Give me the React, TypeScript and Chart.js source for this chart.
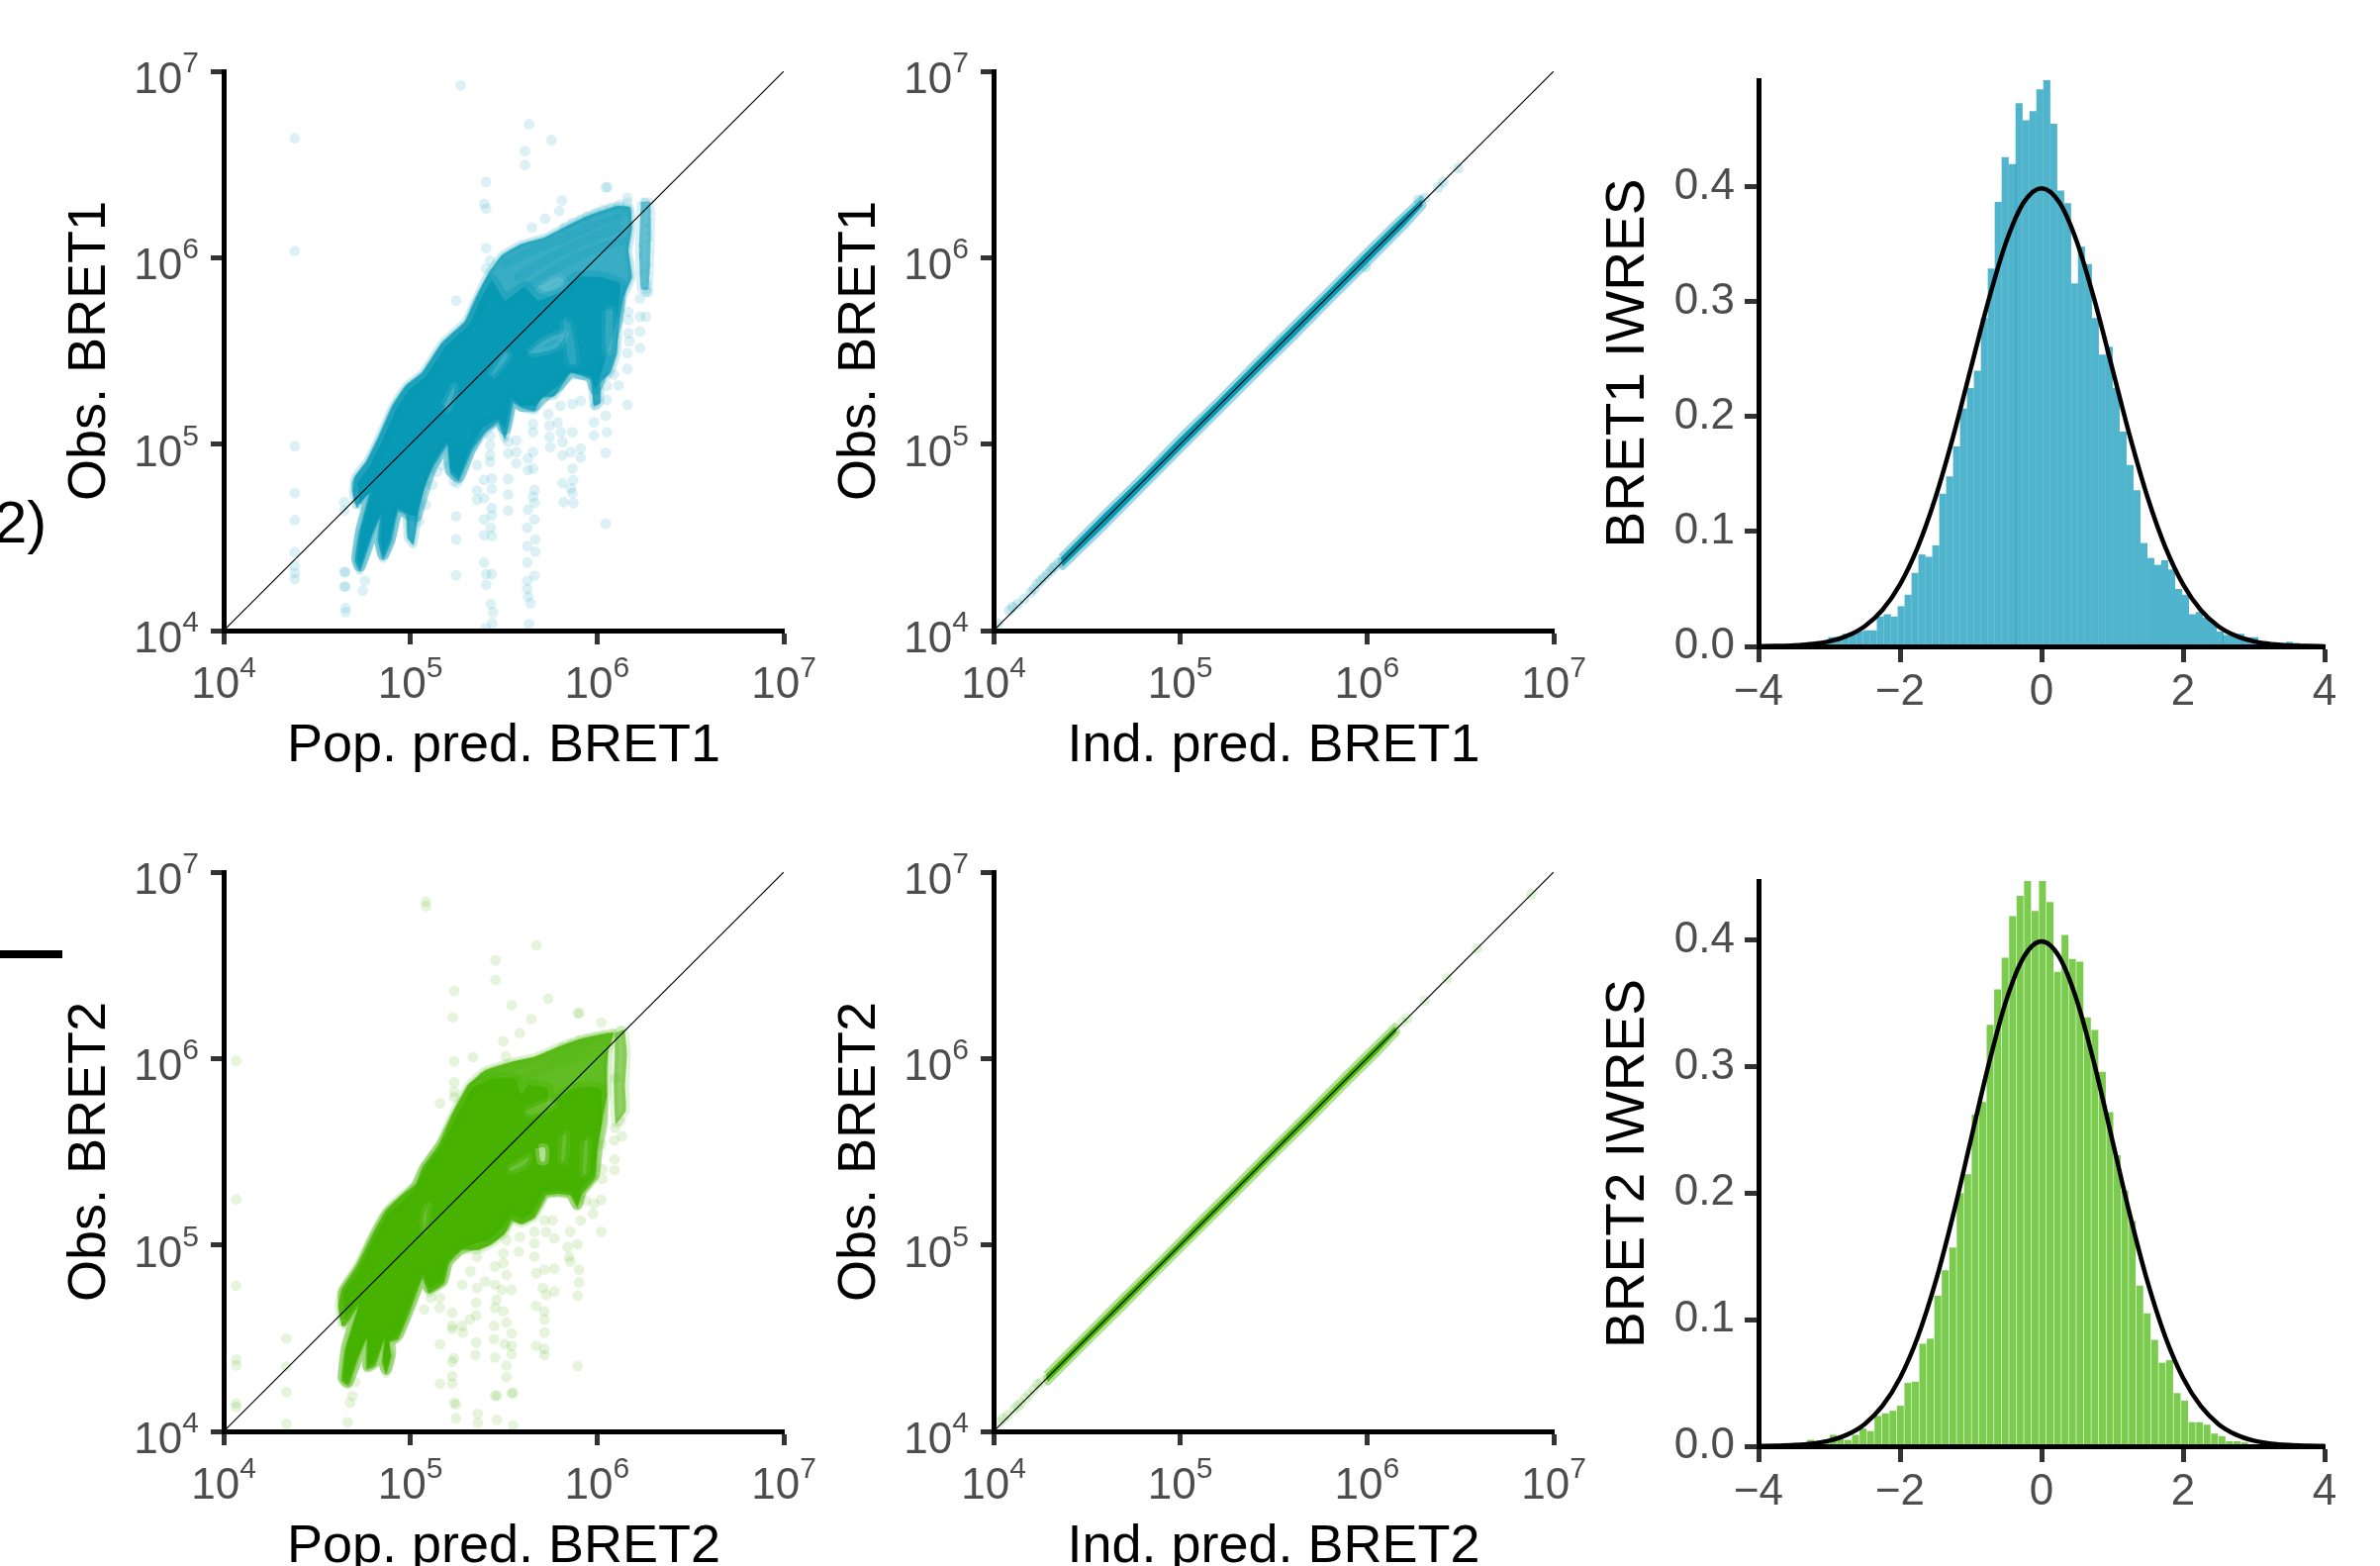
import React, { useEffect, useRef } from "react";
import { Chart, registerables } from "chart.js";

Chart.register(...registerables);

// All scatter values are log10(value) pairs.
type P = [number, number];

const logTicks = [1e4, 1e5, 1e6, 1e7];
const logTickBase = "10";
const logTickExponents = ["4", "5", "6", "7"];
const histXTicks = [-4, -2, 0, 2, 4];
const histXLabels = ["\u22124", "\u22122", "0", "2", "4"];
const histYTicks = [0, 0.1, 0.2, 0.3, 0.4];
const diagonalValues = [1e4, 1e7];

const bret1PopCloud: P[] = [[4.713,4.657],[4.692,4.746],[4.704,4.825],[4.766,4.905],[4.836,5.046],[4.907,5.206],[4.977,5.312],[5.066,5.383],[5.171,5.542],[5.295,5.657],[5.348,5.772],[5.418,5.914],[5.489,6.011],[5.595,6.073],[5.718,6.108],[5.824,6.162],[5.948,6.223],[6.106,6.277],[6.177,6.268],[6.186,6.162],[6.168,6.037],[6.186,5.896],[6.142,5.790],[6.115,5.631],[6.106,5.489],[6.071,5.383],[6.018,5.330],[6.018,5.223],[5.983,5.206],[5.965,5.347],[5.859,5.383],[5.815,5.321],[5.771,5.259],[5.701,5.250],[5.665,5.179],[5.595,5.197],[5.551,5.223],[5.533,5.135],[5.507,5.029],[5.471,5.117],[5.401,5.064],[5.330,4.967],[5.260,4.807],[5.216,4.843],[5.198,4.993],[5.118,4.869],[5.066,4.746],[5.039,4.604],[5.016,4.462],[4.986,4.498],[4.977,4.622],[4.933,4.639],[4.898,4.480],[4.854,4.383],[4.827,4.480],[4.836,4.604],[4.792,4.498],[4.730,4.321],[4.704,4.374],[4.722,4.507],[4.783,4.754]];
const bret1PopCore: P[] = [[4.730,4.684],[4.716,4.790],[4.783,4.887],[4.854,5.029],[4.924,5.188],[4.995,5.294],[5.083,5.365],[5.189,5.524],[5.313,5.639],[5.365,5.754],[5.436,5.878],[5.507,5.772],[5.612,5.843],[5.683,5.772],[5.789,5.807],[5.895,5.896],[6.018,5.896],[6.124,5.861],[6.106,5.666],[6.018,5.365],[5.992,5.294],[5.965,5.365],[5.859,5.383],[5.789,5.312],[5.718,5.259],[5.665,5.206],[5.595,5.206],[5.542,5.241],[5.507,5.082],[5.471,5.135],[5.383,5.082],[5.313,4.958],[5.260,4.825],[5.215,4.861],[5.198,5.011],[5.118,4.887],[5.075,4.763],[5.030,4.613],[4.995,4.622],[4.933,4.657],[4.889,4.489],[4.854,4.409],[4.840,4.480],[4.845,4.622],[4.792,4.515],[4.730,4.347],[4.716,4.391],[4.739,4.551],[4.792,4.746]];
const bret1PopColumn: P[] = [[6.235,6.300],[6.285,6.300],[6.287,6.050],[6.275,5.830],[6.235,5.830],[6.225,6.050]];
const bret1PopTrackA: P[] = [[5.508,5.966],[5.650,6.037],[5.791,6.090],[5.950,6.161],[6.109,6.214]];
const bret1PopTrackB: P[] = [[5.579,5.896],[5.720,5.984],[5.897,6.073],[6.109,6.161]];
const bret1PopTrackC: P[] = [[5.614,5.825],[5.791,5.949],[5.968,6.037],[6.144,6.091]];
const bret1PopPatchA: P[] = [[5.632,5.489],[5.720,5.559],[5.826,5.595],[5.791,5.524],[5.685,5.489]];
const bret1PopPatchB: P[] = [[5.429,5.365],[5.508,5.489],[5.526,5.471],[5.455,5.382]];
const bret1PopPatchC: P[] = [[5.181,5.206],[5.234,5.312],[5.234,5.277],[5.199,5.188]];
const bret1PopPatchD: P[] = [[6.047,5.719],[6.082,5.719],[6.074,5.507],[6.047,5.489]];
const bret1PopPatchE: P[] = [[5.817,5.666],[5.853,5.648],[5.888,5.435],[5.853,5.435]];
const bret1PopPatchF: P[] = [[5.685,5.843],[5.791,5.896],[5.826,5.861],[5.738,5.816]];
const bret1PopDots: P[] = [[5.269,6.925],[5.636,6.716],[5.614,6.572],[5.614,6.497],[5.756,6.631],[4.381,6.641],[4.381,6.036],[4.381,4.988],[4.381,4.737],[4.381,4.592],[4.381,4.421],[4.381,4.348],[4.381,4.308],[4.381,4.276],[4.653,4.121],[4.653,4.099],[4.653,4.313],[4.653,4.236],[5.403,4.013],[5.439,4.040],[5.431,4.142],[5.444,4.099],[5.636,4.035],[5.644,4.147],[5.631,4.182],[6.056,6.379],
[5.406,6.406],[5.395,6.289],[5.406,6.264],[5.812,6.308],[5.798,6.250],[5.722,6.209],[5.651,6.162],[6.046,6.377],[6.163,6.321],[5.406,6.052],[5.427,5.984],[5.406,5.940],[5.245,5.770],
[6.256,6.294],[6.262,6.250],[6.265,6.197],[6.265,6.153],[6.269,6.108],[6.256,6.064],[6.251,6.011],[6.262,5.958],[6.256,5.914],[6.265,5.861],[6.262,5.816],[6.230,5.781],[6.274,5.816],[6.230,5.684],[6.262,5.684],[6.230,5.604],[6.230,5.515],
[6.168,5.710],[6.168,5.666],[6.168,5.595],[6.173,5.551],[6.163,5.489],[6.163,5.404],[6.115,5.315],[6.163,5.211],[6.089,5.374],[6.053,5.312],[6.053,5.238],[6.046,5.153],[6.053,5.064],[6.046,4.954],[6.046,4.572],[5.983,5.117],[5.983,5.046],[5.992,5.206],
[5.912,4.976],[5.912,4.928],[5.868,5.215],[5.912,5.232],[5.868,5.064],[5.859,4.958],[5.815,4.940],[5.868,4.869],[5.873,4.807],[5.859,4.763],[5.815,4.790],[5.868,4.737],[5.821,4.689],[5.873,4.684],[5.803,5.206],[5.789,5.117],[5.806,5.064],[5.815,5.011],[5.739,5.161],[5.745,5.100],[5.745,5.038],[5.750,4.984],
[5.657,5.108],[5.657,5.064],[5.657,4.958],[5.630,4.923],[5.630,4.861],[5.657,4.869],[5.665,4.754],[5.657,4.719],[5.665,4.684],[5.630,4.648],[5.665,4.595],[5.626,4.551],[5.669,4.489],[5.626,4.453],[5.669,4.423],[5.626,4.365],[5.665,4.294],[5.626,4.268],[5.626,4.223],
[5.568,5.020],[5.568,4.958],[5.524,5.011],[5.524,4.949],[5.568,4.896],[5.524,4.813],[5.524,4.731],[5.524,4.643],[5.427,5.046],[5.427,4.993],[5.427,4.940],[5.427,4.905],[5.357,4.887],[5.436,4.816],[5.395,4.807],[5.436,4.760],[5.357,4.751],[5.357,4.701],[5.395,4.710],[5.436,4.657],[5.436,4.618],[5.395,4.595],[5.431,4.551],[5.436,4.507],[5.395,4.512],[5.395,4.365],[5.436,4.303],[5.406,4.303],[5.406,4.246],
[5.245,4.613],[5.245,4.489],[5.245,4.296],[4.646,4.689],[4.646,4.643],[4.646,4.315],[4.646,4.236],[4.757,4.268],[4.745,4.214],[5.251,4.790],[5.233,4.799],[5.171,4.887],[5.145,4.852],[5.118,4.781],[5.083,4.675],[5.048,4.586],
[5.824,6.162],[5.868,6.188],[5.912,6.206],[5.948,6.223],[5.992,6.241],[6.032,6.259],[6.075,6.271],[6.120,6.285],[6.163,6.294],[6.163,6.250],[6.120,6.241]];

const bret1IndBand: P[] = [[4.36,4.392],[4.60,4.634],[4.80,4.830],[5.00,5.036],[5.20,5.230],[5.40,5.434],[5.60,5.633],[5.80,5.830],[6.00,6.034],[6.18,6.210],[6.29,6.312],[6.30,6.280],[6.20,6.170],[6.00,5.968],[5.80,5.770],[5.60,5.566],[5.40,5.370],[5.20,5.169],[5.00,4.970],[4.80,4.769],[4.60,4.566],[4.37,4.343]];
const bret1IndDots: P[] = [[4.023,4.037],[4.085,4.108],[4.102,4.126],[4.129,4.143],[4.164,4.170],[4.200,4.205],[4.217,4.223],[4.235,4.250],[4.252,4.267],[4.270,4.285],[4.288,4.303],[4.306,4.320],[4.318,4.335],[4.332,4.347],[4.350,4.365],[6.275,6.312],[6.311,6.321],[6.381,6.377],[6.408,6.406],[6.488,6.480],[5.993,5.949]];

const bret2PopCloud: P[] = [[4.633,4.566],[4.616,4.672],[4.633,4.760],[4.713,4.884],[4.801,5.061],[4.871,5.185],[4.942,5.256],[5.030,5.327],[5.065,5.415],[5.154,5.539],[5.224,5.698],[5.312,5.858],[5.401,5.937],[5.542,5.982],[5.665,6.008],[5.789,6.061],[5.912,6.105],[6.036,6.132],[6.088,6.138],[6.060,6.040],[6.053,5.946],[6.053,5.805],[6.018,5.628],[6.000,5.486],[5.991,5.362],[5.921,5.274],[5.894,5.203],[5.859,5.265],[5.789,5.274],[5.727,5.265],[5.665,5.150],[5.595,5.114],[5.542,5.132],[5.506,5.061],[5.436,5.008],[5.365,4.973],[5.277,4.973],[5.207,4.902],[5.180,4.796],[5.101,4.743],[5.065,4.822],[4.995,4.636],[4.933,4.495],[4.880,4.477],[4.898,4.406],[4.871,4.309],[4.850,4.371],[4.863,4.495],[4.810,4.353],[4.766,4.336],[4.766,4.495],[4.713,4.371],[4.669,4.247],[4.633,4.274],[4.651,4.442],[4.721,4.672],[4.651,4.566]];
const bret2PopCore: P[] = [[4.651,4.601],[4.642,4.743],[4.730,4.875],[4.810,5.043],[4.880,5.167],[4.960,5.238],[5.030,5.309],[5.083,5.415],[5.171,5.539],[5.242,5.681],[5.330,5.840],[5.436,5.893],[5.559,5.893],[5.595,5.805],[5.630,5.858],[5.736,5.840],[5.736,5.750],[5.877,5.840],[6.018,5.840],[6.027,5.663],[6.000,5.521],[5.983,5.380],[5.912,5.291],[5.894,5.221],[5.859,5.282],[5.789,5.291],[5.718,5.282],[5.648,5.167],[5.595,5.141],[5.542,5.159],[5.498,5.097],[5.418,5.026],[5.348,5.008],[5.260,4.973],[5.198,4.911],[5.171,4.813],[5.101,4.769],[5.069,4.849],[4.995,4.672],[4.933,4.521],[4.889,4.486],[4.893,4.424],[4.871,4.336],[4.854,4.389],[4.863,4.504],[4.810,4.380],[4.774,4.353],[4.769,4.504],[4.713,4.389],[4.663,4.265],[4.642,4.291],[4.660,4.451],[4.727,4.690]];
const bret2PopColumn: P[] = [[6.095,6.135],[6.145,6.155],[6.160,6.030],[6.150,5.850],[6.155,5.720],[6.100,5.650],[6.090,5.850],[6.095,6.000]];
const bret2PopTrackA: P[] = [[5.385,5.902],[5.561,5.955],[5.738,6.008],[5.915,6.061],[6.056,6.097]];
const bret2PopTrackB: P[] = [[5.455,5.840],[5.632,5.911],[5.809,5.982],[6.021,6.035]];
const bret2PopPatchA: P[] = [[5.688,5.521],[5.720,5.521],[5.720,5.451],[5.699,5.451]];
const bret2PopPatchB: P[] = [[5.526,5.406],[5.632,5.468],[5.614,5.433],[5.543,5.397]];
const bret2PopPatchC: P[] = [[5.817,5.592],[5.835,5.592],[5.825,5.450],[5.808,5.450]];
const bret2PopPatchD: P[] = [[5.932,5.557],[5.950,5.557],[5.940,5.380],[5.925,5.380]];
const bret2PopPatchE: P[] = [[5.066,5.150],[5.095,5.210],[5.090,5.180],[5.075,5.080]];
const bret2PopPatchF: P[] = [[5.614,5.716],[5.738,5.769],[5.773,5.751],[5.650,5.698]];
const bret2PopDots: P[] = [[5.083,6.842],[5.083,6.817],[5.675,6.606],[5.456,6.527],[5.456,6.421],[4.067,5.988],[4.067,5.245],[4.067,4.782],[4.067,4.386],[4.067,4.354],[4.067,4.151],[4.067,4.131],[4.336,4.498],[4.336,4.347],[4.336,4.210],[4.336,4.040],[4.664,4.050],[5.244,4.069],[5.361,4.094],[5.361,4.045],[5.464,4.062],[5.464,4.193],[5.550,4.205],[5.550,4.032],[5.244,4.144],[5.906,6.243],
[5.235,6.362],[5.228,6.221],[5.542,6.288],[5.738,6.321],[5.896,6.244],[6.023,6.194],[5.648,6.212],[5.586,6.137],[5.498,6.093],[5.335,6.008],[5.235,5.985],[5.512,6.012],[5.235,5.872],[5.235,5.822],[5.235,5.792],[5.159,5.760],
[6.097,5.893],[6.124,5.663],[6.097,5.628],[6.133,5.583],[6.092,5.560],[6.094,5.459],[6.094,5.401],[6.030,5.406],[6.023,5.539],[6.027,5.353],[6.023,5.242],[6.023,5.070],[5.983,5.221],[5.979,5.167],[5.939,5.238],[5.912,5.132],[5.895,5.003],[5.903,4.867],[5.903,4.799],[5.896,4.728],[5.896,4.350],
[5.856,5.070],[5.842,4.990],[5.850,4.937],[5.856,4.911],[5.771,4.872],[5.771,4.751],[5.771,5.035],[5.762,5.132],[5.727,5.070],[5.718,5.132],[5.665,5.070],[5.665,5.008],[5.665,4.937],[5.674,4.849],[5.718,4.867],[5.709,4.769],[5.727,4.734],[5.674,4.672],[5.718,4.645],[5.718,4.601],[5.718,4.530],[5.674,4.459],[5.718,4.442],[5.718,4.410],
[5.586,5.043],[5.581,4.964],[5.515,5.026],[5.498,4.955],[5.498,4.902],[5.454,4.884],[5.515,4.840],[5.401,4.805],[5.454,4.787],[5.489,4.760],[5.542,4.760],[5.462,4.707],[5.454,4.663],[5.498,4.645],[5.515,4.583],[5.448,4.566],[5.542,4.525],[5.448,4.495],[5.506,4.468],[5.542,4.459],[5.542,4.415],[5.454,4.397],[5.515,4.353],[5.515,4.291],[5.454,4.190],[5.542,4.206],
[5.357,4.937],[5.321,4.858],[5.277,4.787],[5.357,4.769],[5.353,4.690],[5.353,4.622],[5.318,4.601],[5.277,4.566],[5.281,4.530],[5.224,4.636],[5.224,4.566],[5.224,4.548],[5.159,4.468],[5.353,4.477],[5.348,4.410],[5.233,4.392],[5.224,4.374],[5.224,4.297],[5.224,4.256],[5.159,4.256],[5.235,4.155],[5.157,4.663],[5.074,4.654],[5.110,4.716],[5.159,4.716],[4.690,4.190],[4.677,4.155],[4.704,4.265],
[5.817,6.061],[5.862,6.079],[5.906,6.097],[5.950,6.105],[5.994,6.114],[6.035,6.123],[6.082,6.132],[6.127,6.150]];

const bret2IndBand: P[] = [[4.28,4.304],[4.50,4.524],[4.70,4.726],[4.90,4.923],[5.10,5.126],[5.30,5.324],[5.50,5.526],[5.70,5.724],[5.90,5.926],[6.05,6.074],[6.15,6.172],[6.16,6.142],[6.05,6.024],[5.90,5.877],[5.70,5.674],[5.50,5.477],[5.30,5.276],[5.10,5.077],[4.90,4.877],[4.70,4.674],[4.50,4.476],[4.29,4.266]];
const bret2IndDots: P[] = [[4.032,4.049],[4.052,4.070],[4.075,4.085],[4.111,4.120],[4.130,4.136],[4.147,4.152],[4.170,4.178],[4.191,4.200],[4.215,4.226],[4.235,4.253],[4.253,4.262],[6.190,6.195],[6.216,6.216],[6.310,6.310],[6.430,6.430],[6.590,6.590],[6.880,6.880]];

const bret1BinCentres = [-3.454,-3.356,-3.258,-3.160,-3.062,-2.964,-2.866,-2.768,-2.670,-2.572,-2.474,-2.376,-2.278,-2.180,-2.082,-1.984,-1.886,-1.788,-1.690,-1.592,-1.494,-1.396,-1.298,-1.200,-1.102,-1.004,-0.906,-0.808,-0.710,-0.612,-0.514,-0.416,-0.318,-0.220,-0.122,-0.024,0.074,0.172,0.270,0.368,0.466,0.564,0.662,0.760,0.858,0.956,1.054,1.152,1.250,1.348,1.446,1.544,1.642,1.740,1.838,1.936,2.034,2.132,2.230,2.328,2.426,2.524,2.622,2.720,2.818,2.916,3.014,3.112,3.210,3.308,3.406,3.504,3.602,3.700,3.798];
const bret1Density = [.001,.002,.004,.004,.005,.008,.008,.011,.012,.013,.014,.014,.026,.028,.026,.035,.045,.064,.080,.078,.088,.133,.148,.174,.207,.225,.240,.286,.329,.387,.426,.420,.473,.458,.466,.485,.495,.455,.397,.386,.316,.348,.333,.286,.254,.261,.225,.187,.158,.136,.090,.077,.071,.075,.067,.050,.045,.028,.030,.025,.021,.013,.010,.010,.011,.008,.008,.003,.002,.002,.002,.004,.003,.002,.001];
const bret1Seams: P[] = [[-0.363,0],[-0.363,0.42]];
const bret1SeamLow: P[] = [[2.563,0],[2.563,0.013]];

const bret2BinCentres = [-3.369,-3.263,-3.158,-3.052,-2.946,-2.841,-2.735,-2.629,-2.523,-2.418,-2.312,-2.206,-2.101,-1.995,-1.889,-1.784,-1.678,-1.572,-1.466,-1.361,-1.255,-1.149,-1.044,-0.938,-0.832,-0.727,-0.621,-0.515,-0.409,-0.304,-0.198,-0.092,0.013,0.119,0.225,0.331,0.436,0.542,0.648,0.753,0.859,0.965,1.070,1.176,1.282,1.388,1.493,1.599,1.705,1.810,1.916,2.022,2.127,2.233,2.339,2.445,2.550,2.656,2.762,2.867,2.973];
const bret2Density = [.002,.005,.003,.004,.009,.006,.005,.009,.014,.012,.024,.026,.028,.032,.050,.051,.081,.085,.119,.139,.157,.200,.215,.262,.272,.333,.361,.386,.419,.435,.450,.423,.449,.430,.375,.404,.385,.383,.339,.329,.296,.264,.230,.202,.178,.127,.105,.084,.066,.068,.042,.036,.019,.019,.017,.010,.008,.004,.004,.003,.001];

const normalX = [-4,-3.75,-3.5,-3.25,-3,-2.75,-2.5,-2.25,-2,-1.75,-1.5,-1.25,-1,-0.75,-0.5,-0.25,0,0.25,0.5,0.75,1,1.25,1.5,1.75,2,2.25,2.5,2.75,3,3.25,3.5,3.75,4];
const normalDensity = [.0001,.0004,.0009,.0020,.0044,.0091,.0175,.0317,.0540,.0863,.1295,.1826,.2420,.3011,.3521,.3867,.3989,.3867,.3521,.3011,.2420,.1826,.1295,.0863,.0540,.0317,.0175,.0091,.0044,.0020,.0009,.0004,.0001];

const FONT = "'Liberation Sans', Arial, sans-serif";
const TICK_COLOR = "#4d4d4d";
const TICK_MARK = "#333333";

const toXY = (pts: P[]) => pts.map(([x, y]) => ({ x: 10 ** x, y: 10 ** y }));
const closed = (pts: P[]) => toXY([...pts, pts[0]]);

function region(pts: P[], fill: string, rimColor: string, rimWidth: number, order: number, tension = 0.12) {
  return {
    data: closed(pts),
    showLine: true,
    fill: "shape",
    backgroundColor: fill,
    borderColor: rimColor,
    borderWidth: rimWidth,
    borderJoinStyle: "round",
    pointRadius: 0,
    tension,
    order,
  };
}

function rim(pts: P[], color: string, width: number, order: number) {
  return {
    data: closed(pts),
    showLine: true,
    fill: false,
    borderColor: color,
    borderWidth: width,
    borderJoinStyle: "round",
    pointRadius: 0,
    tension: 0.12,
    order,
  };
}

function track(pts: P[], color: string, order: number) {
  return {
    data: toXY(pts),
    showLine: true,
    fill: false,
    borderColor: color,
    borderWidth: 9,
    borderCapStyle: "round",
    pointRadius: 0,
    tension: 0.3,
    order,
  };
}

function axisBase(tickLength: number) {
  return {
    border: { display: true, color: "#000000", width: 5, z: 2 },
    grid: { drawOnChartArea: false, drawTicks: true, tickLength, tickWidth: 5, tickColor: TICK_MARK, z: 1 },
  };
}

const powerLabels = {
  id: "powerLabels",
  afterDraw(chart: any) {
    const ctx = chart.ctx;
    const { x, y } = chart.scales;
    const baseFont = `44px ${FONT}`;
    const expFont = `30px ${FONT}`;
    ctx.save();
    ctx.fillStyle = TICK_COLOR;
    ctx.textBaseline = "alphabetic";
    ctx.textAlign = "left";
    logTicks.forEach((v, i) => {
      const exp = logTickExponents[i];
      ctx.font = baseFont;
      const w10 = ctx.measureText(logTickBase).width;
      ctx.font = expFont;
      const wExp = ctx.measureText(exp).width;
      const total = w10 + wExp;
      const draw = (left: number, baseline: number) => {
        ctx.font = baseFont;
        ctx.fillText(logTickBase, left, baseline);
        ctx.font = expFont;
        ctx.fillText(exp, left + w10, baseline - 21);
      };
      draw(x.getPixelForValue(v) - total / 2, y.bottom + 68);
      draw(x.left - 25 - total, y.getPixelForValue(v) + 22);
    });
    ctx.restore();
  },
};

function scatterConfig(rgb: string, regions: any[], dots: P[], dotAlpha: number, xTitle: string, yTitle: string) {
  const setTicks = (s: any) => {
    s.ticks = logTicks.map((value) => ({ value }));
  };
  return {
    type: "scatter",
    plugins: [powerLabels],
    data: {
      datasets: [
        {
          data: diagonalValues.map((v) => ({ x: v, y: v })),
          showLine: true,
          borderColor: "#000000",
          borderWidth: 1.2,
          pointRadius: 0,
          order: 0,
        },
        {
          data: toXY(dots),
          showLine: false,
          backgroundColor: `rgba(${rgb},${dotAlpha})`,
          borderWidth: 0,
          pointRadius: 5.4,
          order: 1,
        },
        ...regions,
      ],
    },
    options: {
      responsive: false,
      animation: false,
      events: [],
      layout: { autoPadding: false, padding: { top: 56, right: 40, left: 0, bottom: 0 } },
      plugins: { legend: { display: false }, tooltip: { enabled: false } },
      scales: {
        x: {
          type: "logarithmic",
          min: logTicks[0],
          max: logTicks[3],
          ...axisBase(14),
          afterBuildTicks: setTicks,
          afterFit: (s: any) => { s.height = 145; },
          ticks: { display: false },
          title: { display: true, text: xTitle, color: "#000000", padding: { top: 0, bottom: 0 }, font: { family: FONT, size: 54, lineHeight: 1.05 } },
        },
        y: {
          type: "logarithmic",
          min: logTicks[0],
          max: logTicks[3],
          ...axisBase(13),
          afterBuildTicks: setTicks,
          afterFit: (s: any) => { s.width = 167; },
          ticks: { display: false },
          title: { display: true, text: yTitle, color: "#000000", padding: 0, font: { family: FONT, size: 54, lineHeight: 1.2 } },
        },
      },
    },
  };
}

function histConfig(fill: string, bins: number[], density: number[], barPct: number, yMax: number, yTitle: string, seams: P[][]) {
  return {
    type: "bar",
    data: {
      datasets: [
        {
          type: "line",
          data: normalX.map((x, i) => ({ x, y: normalDensity[i] })),
          borderColor: "#000000",
          borderWidth: 4.5,
          pointRadius: 0,
          cubicInterpolationMode: "monotone",
          order: 0,
        },
        ...seams.map((s) => ({
          type: "line",
          data: s.map(([x, y]) => ({ x, y })),
          borderColor: "#2b9cb6",
          borderWidth: 1,
          pointRadius: 0,
          order: 1,
        })),
        {
          data: bins.map((x, i) => ({ x, y: density[i] })),
          backgroundColor: fill,
          borderWidth: 0,
          categoryPercentage: 1,
          barPercentage: barPct,
          order: 2,
        },
      ],
    },
    options: {
      responsive: false,
      animation: false,
      events: [],
      layout: { autoPadding: false, padding: { top: 56, right: 50, left: 0, bottom: 0 } },
      plugins: { legend: { display: false }, tooltip: { enabled: false } },
      scales: {
        x: {
          type: "linear",
          offset: false,
          min: histXTicks[0],
          max: histXTicks[4],
          border: axisBase(16).border,
          grid: { ...axisBase(16).grid, offset: false },
          afterBuildTicks: (s: any) => { s.ticks = histXTicks.map((value) => ({ value })); },
          afterFit: (s: any) => { s.height = 100; },
          ticks: {
            callback: (v: any) => histXLabels[histXTicks.indexOf(Number(v))] ?? "",
            autoSkip: false, maxRotation: 0, padding: 4, color: TICK_COLOR, font: { family: FONT, size: 44 },
          },
        },
        y: {
          type: "linear",
          min: 0,
          max: yMax,
          ...axisBase(14),
          afterBuildTicks: (s: any) => { s.ticks = histYTicks.map((value) => ({ value })); },
          afterFit: (s: any) => { s.width = 165; },
          ticks: {
            callback: (v: any) => Number(v).toFixed(1),
            autoSkip: false, padding: 10, color: TICK_COLOR, font: { family: FONT, size: 44 },
          },
          title: { display: true, text: yTitle, color: "#000000", padding: { top: 1, bottom: 0 }, font: { family: FONT, size: 55, lineHeight: 1.2 } },
        },
      },
    },
  };
}

const BLUE = "8,153,181";
const GREEN = "71,178,0";

const lightPatch = (pts: P[], a: number) => region(pts, `rgba(255,255,255,${a})`, `rgba(255,255,255,${a / 2})`, 8, 2, 0.3);

const panels = [
  { left: 59, top: 16, width: 773, height: 766, cfg: () => scatterConfig(BLUE, [
      rim(bret1PopCloud, `rgba(${BLUE},0.25)`, 3, 6),
      region(bret1PopCloud, `rgba(${BLUE},0.8)`, `rgba(${BLUE},0.2)`, 8, 7),
      region(bret1PopColumn, `rgba(${BLUE},0.55)`, `rgba(${BLUE},0.15)`, 8, 7),
      region(bret1PopCore, `rgb(${BLUE})`, `rgba(${BLUE},0.4)`, 12, 5),
      track(bret1PopTrackA, `rgba(${BLUE},0.2)`, 4),
      track(bret1PopTrackB, `rgba(${BLUE},0.2)`, 4),
      track(bret1PopTrackC, `rgba(${BLUE},0.2)`, 4),
      lightPatch(bret1PopPatchA, 0.16),
      lightPatch(bret1PopPatchB, 0.14),
      lightPatch(bret1PopPatchC, 0.16),
      lightPatch(bret1PopPatchD, 0.12),
      lightPatch(bret1PopPatchE, 0.1),
      lightPatch(bret1PopPatchF, 0.12),
    ], bret1PopDots, 0.14, "Pop. pred. BRET1", "Obs. BRET1") },
  { left: 837, top: 16, width: 773, height: 766, cfg: () => scatterConfig(BLUE, [
      region(bret1IndBand, `rgb(${BLUE})`, `rgba(${BLUE},0.4)`, 7, 3, 0),
    ], bret1IndDots, 0.2, "Ind. pred. BRET1", "Obs. BRET1") },
  { left: 1612, top: 25, width: 787, height: 728, cfg: () => histConfig("#50b4cc", bret1BinCentres, bret1Density, 1.02, 0.493, "BRET1 IWRES", [bret1Seams, bret1SeamLow]) },
  { left: 59, top: 825, width: 773, height: 766, cfg: () => scatterConfig(GREEN, [
      rim(bret2PopCloud, `rgba(${GREEN},0.25)`, 3, 6),
      region(bret2PopCloud, `rgba(${GREEN},0.86)`, `rgba(${GREEN},0.18)`, 8, 7),
      region(bret2PopColumn, `rgba(${GREEN},0.6)`, `rgba(${GREEN},0.15)`, 8, 7),
      region(bret2PopCore, `rgb(${GREEN})`, `rgba(${GREEN},0.4)`, 12, 5),
      track(bret2PopTrackA, `rgba(${GREEN},0.2)`, 4),
      track(bret2PopTrackB, `rgba(${GREEN},0.2)`, 4),
      lightPatch(bret2PopPatchA, 0.45),
      lightPatch(bret2PopPatchB, 0.15),
      lightPatch(bret2PopPatchC, 0.12),
      lightPatch(bret2PopPatchD, 0.12),
      lightPatch(bret2PopPatchE, 0.14),
      lightPatch(bret2PopPatchF, 0.12),
    ], bret2PopDots, 0.14, "Pop. pred. BRET2", "Obs. BRET2") },
  { left: 837, top: 825, width: 773, height: 766, cfg: () => scatterConfig(GREEN, [
      region(bret2IndBand, `rgb(${GREEN})`, `rgba(${GREEN},0.4)`, 7, 3, 0),
    ], bret2IndDots, 0.16, "Ind. pred. BRET2", "Obs. BRET2") },
  { left: 1612, top: 834, width: 787, height: 727, cfg: () => histConfig("#7acb4e", bret2BinCentres, bret2Density, 0.93, 0.4467, "BRET2 IWRES", []) },
];

export default function App() {
  const refs = useRef<(HTMLCanvasElement | null)[]>([]);
  useEffect(() => {
    const charts = panels.map((p, i) => new Chart(refs.current[i] as HTMLCanvasElement, p.cfg() as any));
    return () => charts.forEach((c) => c.destroy());
  }, []);
  return (
    <div style={{ position: "absolute", left: 0, top: 0, width: 2405, height: 1582, overflow: "hidden", background: "#fff" }}>
      <div style={{ position: "absolute", left: -6, top: 494, fontFamily: FONT, fontSize: 60, lineHeight: "68px", color: "#000" }}>2)</div>
      <div style={{ position: "absolute", left: 0, top: 960, width: 63, height: 8, background: "#000" }} />
      {panels.map((p, i) => (
        <canvas
          key={i}
          ref={(el) => { refs.current[i] = el; }}
          width={p.width}
          height={p.height}
          style={{ position: "absolute", left: p.left, top: p.top, width: p.width, height: p.height }}
        />
      ))}
    </div>
  );
}
